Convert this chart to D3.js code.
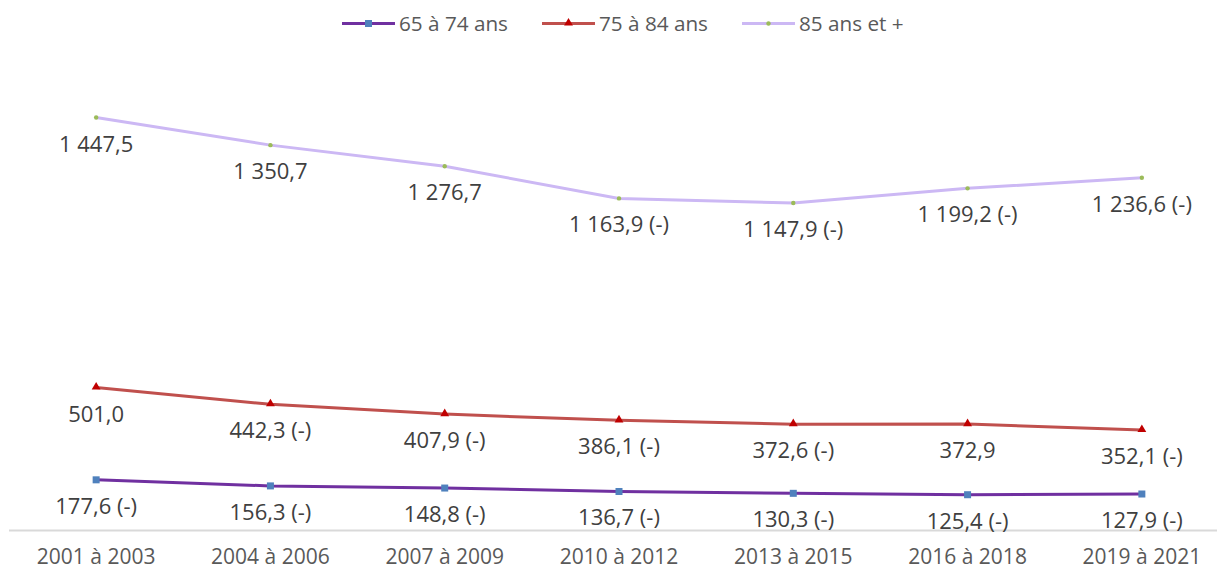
<!DOCTYPE html>
<html>
<head>
<meta charset="utf-8">
<script src="https://cdn.jsdelivr.net/npm/d3@7"></script>
<style>
  body { margin: 0; background: #fff; }
  text { font-family: "Open Sans", sans-serif; }
</style>
</head>
<body>
<svg id="chart" width="1217" height="569"></svg>
<script>
// periods on the x axis
var periods = ["2001 à 2003", "2004 à 2006", "2007 à 2009", "2010 à 2012", "2013 à 2015", "2016 à 2018", "2019 à 2021"];

// series values
var age65 = [177.6, 156.3, 148.8, 136.7, 130.3, 125.4, 127.9];
var age75 = [501.0, 442.3, 407.9, 386.1, 372.6, 372.9, 352.1];
var age85 = [1447.5, 1350.7, 1276.7, 1163.9, 1147.9, 1199.2, 1236.6];

// labels shown next to points
var lab65 = ["177,6 (-)", "156,3 (-)", "148,8 (-)", "136,7 (-)", "130,3 (-)", "125,4 (-)", "127,9 (-)"];
var lab75 = ["501,0", "442,3 (-)", "407,9 (-)", "386,1 (-)", "372,6 (-)", "372,9", "352,1 (-)"];
var lab85 = ["1 447,5", "1 350,7", "1 276,7", "1 163,9 (-)", "1 147,9 (-)", "1 199,2 (-)", "1 236,6 (-)"];

var seriesNames = ["65 à 74 ans", "75 à 84 ans", "85 ans et +"];

var series = [
  {name: seriesNames[0], values: age65, labels: lab65, line: "#7030A0", mark: "#4F81BD", shape: "square"},
  {name: seriesNames[1], values: age75, labels: lab75, line: "#C0504D", mark: "#C00000", shape: "triangle"},
  {name: seriesNames[2], values: age85, labels: lab85, line: "#CCB8F4", mark: "#9BBB59", shape: "dot"}
];

var svg = d3.select("#chart");

//scales
var x = d3.scaleBand().domain(periods).range([9, 1229]);
var y = d3.scaleLinear().domain([0, 1600]).range([530.5, 74]);
function cx(i) { return x(periods[i]) + x.bandwidth() / 2; }

//axis line
svg.append("line")
  .attr("x1", 9).attr("x2", 1217)
  .attr("y1", y(0)).attr("y2", y(0))
  .attr("stroke", "#D9D9D9").attr("stroke-width", 2);

//category labels
svg.selectAll("text.tick").data(periods).enter().append("text")
  .attr("class", "tick")
  .attr("x", function(d){ return x(d) + x.bandwidth() / 2; })
  .attr("y", 564)
  .attr("text-anchor", "middle")
  .attr("font-size", 21)
  .attr("fill", "#595959")
  .text(function(d){ return d; });

var line = d3.line()
  .x(function(d, i){ return cx(i); })
  .y(function(d){ return y(d); });

function drawMarker(g, s, px, py) {
  if (s.shape == "square") {
    g.append("rect").attr("x", px - 3.5).attr("y", py - 3.5)
      .attr("width", 7).attr("height", 7).attr("fill", s.mark);
  } else if (s.shape == "triangle") {
    g.append("path").attr("d", d3.symbol().type(d3.symbolTriangle).size(34)())
      .attr("transform", "translate(" + px + "," + (py - 0.5) + ")")
      .attr("fill", s.mark);
  } else {
    g.append("circle").attr("cx", px).attr("cy", py).attr("r", 2.2).attr("fill", s.mark);
  }
}

series.forEach(function(s){
  var g = svg.append("g");
  g.append("path")
    .datum(s.values)
    .attr("d", line)
    .attr("fill", "none")
    .attr("stroke", s.line)
    .attr("stroke-width", 3);

  s.values.forEach(function(v, i){
    drawMarker(g, s, cx(i), y(v));
  });

  g.selectAll("text").data(s.values).enter().append("text")
    .attr("x", function(d, i){ return Math.min(cx(i), 1148); })
    .attr("y", function(d){ return y(d) + 34; })
    .attr("text-anchor", "middle")
    .attr("font-size", 22)
    .attr("fill", "#404040")
    .text(function(d, i){ return s.labels[i]; });
});

//legend
var legX = [342, 542, 742];
series.forEach(function(s, i){
  var g = svg.append("g");
  g.append("line")
    .attr("x1", legX[i]).attr("x2", legX[i] + 53)
    .attr("y1", 23.5).attr("y2", 23.5)
    .attr("stroke", s.line).attr("stroke-width", 3);
  drawMarker(g, s, legX[i] + 26.5, 23.5);
  g.append("text")
    .attr("x", legX[i] + 57)
    .attr("y", 31)
    .attr("font-size", 20.7)
    .attr("fill", "#595959")
    .text(s.name);
});
</script>
</body>
</html>
